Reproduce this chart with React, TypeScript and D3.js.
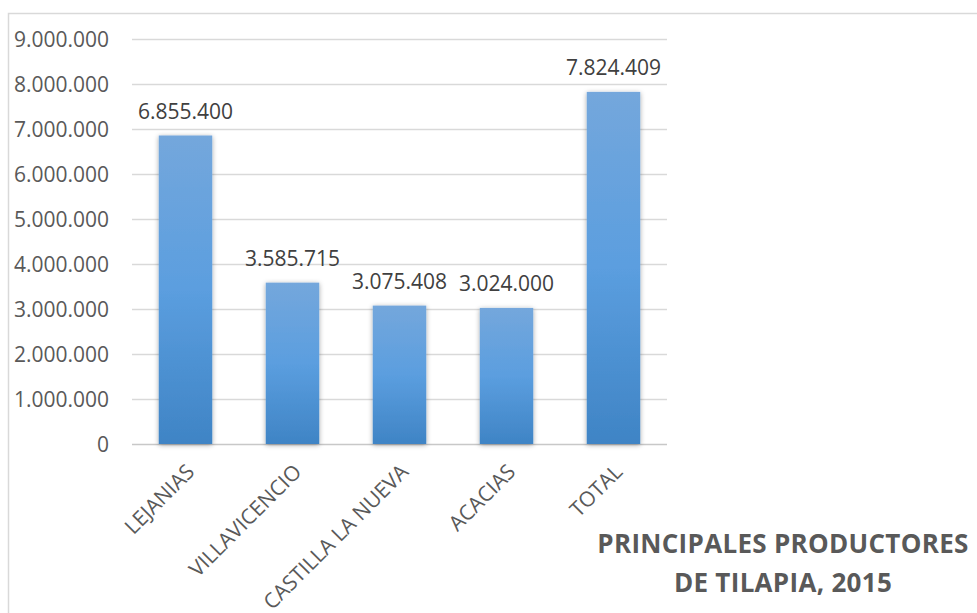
import * as d3 from "d3";
import { useEffect, useRef } from "react";

const categories = ["LEJANIAS", "VILLAVICENCIO", "CASTILLA LA NUEVA", "ACACIAS", "TOTAL"];
const values = [6855400, 3585715, 3075408, 3024000, 7824409];
const yTicks = [0, 1000000, 2000000, 3000000, 4000000, 5000000, 6000000, 7000000, 8000000, 9000000];
const titleLines = ["PRINCIPALES PRODUCTORES", "DE TILAPIA, 2015"];

const W = 977;
const H = 613;
const margin = { top: 39, right: 310, bottom: 169, left: 132 };
const font = "'Open Sans', sans-serif";

// es-CO style thousands separator
const fmt = (v: number) => d3.format(",")(v).replace(/,/g, ".");

export default function App() {
  const svgRef = useRef<SVGSVGElement>(null);

  useEffect(() => {
    const svg = d3.select(svgRef.current);
    svg.selectAll("*").remove();
    const innerW = W - margin.left - margin.right;
    const innerH = H - margin.top - margin.bottom;

    const defs = svg.append("defs");
    const grad = defs.append("linearGradient").attr("id", "barGrad")
      .attr("x1", 0).attr("y1", 0).attr("x2", 0).attr("y2", 1);
    grad.append("stop").attr("offset", "0%").attr("stop-color", "#74a7dc");
    grad.append("stop").attr("offset", "50%").attr("stop-color", "#5b9edf");
    grad.append("stop").attr("offset", "100%").attr("stop-color", "#3f84c5");
    const shadow = defs.append("filter").attr("id", "shadow")
      .attr("x", "-30%").attr("y", "-10%").attr("width", "160%").attr("height", "120%");
    shadow.append("feDropShadow").attr("dx", 0).attr("dy", 1).attr("stdDeviation", 2.5)
      .attr("flood-color", "#000").attr("flood-opacity", 0.35);

    // outer chart border
    svg.append("rect").attr("x", 8.5).attr("y", 13.5).attr("width", 1000).attr("height", 700)
      .attr("fill", "white").attr("stroke", "#d9d9d9").attr("stroke-width", 1.5);

    const g = svg.append("g").attr("transform", `translate(${margin.left},${margin.top})`);

    const x = d3.scaleBand().domain(categories).range([0, innerW]).paddingInner(0.5).paddingOuter(0.25);
    const y = d3.scaleLinear().domain([0, 9000000]).range([innerH, 0]);

    // gridlines
    g.selectAll("line.grid").data(yTicks).enter().append("line")
      .attr("class", "grid")
      .attr("x1", 0).attr("x2", innerW)
      .attr("y1", (d) => Math.round(y(d)) + 0.5).attr("y2", (d) => Math.round(y(d)) + 0.5)
      .attr("stroke", (d) => (d === 0 ? "#c8c8c8" : "#d9d9d9"))
      .attr("stroke-width", 1.5);

    // y tick labels
    g.selectAll("text.ytick").data(yTicks).enter().append("text")
      .attr("class", "ytick")
      .attr("x", -23).attr("y", (d) => y(d))
      .attr("dy", "0.36em")
      .attr("text-anchor", "end")
      .attr("font-family", font).attr("font-size", 21).attr("fill", "#595959")
      .text((d) => fmt(d));

    // bars
    g.selectAll("rect.bar").data(values).enter().append("rect")
      .attr("class", "bar")
      .attr("x", (_, i) => x(categories[i])!)
      .attr("width", x.bandwidth())
      .attr("y", (d) => y(d))
      .attr("height", (d) => innerH - y(d))
      .attr("fill", "url(#barGrad)")
      .attr("filter", "url(#shadow)");

    // data labels
    g.selectAll("text.val").data(values).enter().append("text")
      .attr("class", "val")
      .attr("x", (_, i) => x(categories[i])! + x.bandwidth() / 2)
      .attr("y", (d) => y(d) - 17)
      .attr("text-anchor", "middle")
      .attr("font-family", font).attr("font-size", 21).attr("fill", "#404040")
      .text((d) => fmt(d));

    // category labels, rotated
    g.selectAll("text.cat").data(categories).enter().append("text")
      .attr("class", "cat")
      .attr("transform", (d) => `translate(${x(d)! + x.bandwidth() / 2 + 5},${innerH + 24}) rotate(-45)`)
      .attr("text-anchor", "end")
      .attr("dy", "0.35em")
      .attr("font-family", font).attr("font-size", 21).attr("fill", "#595959")
      .text((d) => d);

    // title
    svg.append("g").selectAll("text").data(titleLines).enter().append("text")
      .attr("x", 783).attr("y", (_, i) => 553 + i * 39)
      .attr("text-anchor", "middle")
      .attr("font-family", font).attr("font-weight", "bold").attr("font-size", 26)
      .attr("letter-spacing", 0.3)
      .attr("fill", "#595959")
      .text((d) => d);
  }, []);

  return (
    <svg ref={svgRef} width={W} height={H}
      style={{ position: "absolute", left: 0, top: 0, background: "white" }} />
  );
}
